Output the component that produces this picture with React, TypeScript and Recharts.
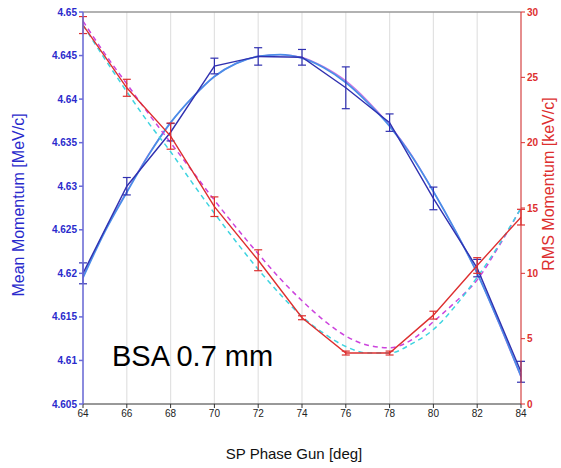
import {
  ComposedChart,
  Line,
  XAxis,
  YAxis,
  CartesianGrid,
  ErrorBar,
  ReferenceLine,
} from "recharts";

// measured points
const phase = [64, 66, 68, 70, 72, 74, 76, 78, 80, 82, 84];
const meanMomentum = [4.62, 4.63, 4.6362, 4.6438, 4.6449, 4.6448, 4.6413, 4.6373, 4.6286, 4.6206, 4.6087];
const meanErr = [0.0012, 0.001, 0.001, 0.0009, 0.001, 0.0009, 0.0024, 0.001, 0.0013, 0.001, 0.0012];
const rmsMomentum = [29.0, 24.2, 20.5, 15.1, 11.0, 6.6, 3.9, 3.9, 6.8, 10.6, 14.3];
const rmsErr = [0.65, 0.65, 1.0, 0.75, 0.8, 0.15, 0.15, 0.15, 0.3, 0.6, 0.6];

// fit curves, read every degree
const fitPhase = [64, 65, 66, 67, 68, 69, 70, 71, 72, 73, 74, 75, 76, 77, 78, 79, 80, 81, 82, 83, 84];
const meanFitBlue = [
  4.6195, 4.6248, 4.6293, 4.6336, 4.6373, 4.6402, 4.6426, 4.6441, 4.6449, 4.6451, 4.6447,
  4.6436, 4.6419, 4.6396, 4.6369, 4.6335, 4.6294, 4.6249, 4.62, 4.6143, 4.6082,
];
const meanFitMagenta = [
  4.6196, 4.6249, 4.6294, 4.6337, 4.6373, 4.6402, 4.6426, 4.6441, 4.6449, 4.6451, 4.6448,
  4.6437, 4.6421, 4.6398, 4.637, 4.6336, 4.6294, 4.6249, 4.62, 4.6142, 4.6081,
];
const rmsFitMagenta = [
  29.3, 26.8, 24.5, 22.2, 20.0, 17.8, 15.6, 13.5, 11.5, 9.6, 7.9,
  6.4, 5.2, 4.5, 4.3, 4.9, 6.3, 7.8, 9.5, 12.1, 15.0,
];
const rmsFitCyan = [
  29.0, 26.4, 23.9, 21.5, 19.3, 16.9, 14.6, 12.4, 10.3, 8.4, 6.7,
  5.4, 4.4, 3.9, 3.9, 4.6, 5.7, 7.5, 9.7, 12.2, 15.0,
];

const xTicks = [64, 66, 68, 70, 72, 74, 76, 78, 80, 82, 84];
const leftTicks = [4.605, 4.61, 4.615, 4.62, 4.625, 4.63, 4.635, 4.64, 4.645, 4.65];
const rightTicks = [0, 5, 10, 15, 20, 25, 30];

const meanData = phase.map((x, i) => ({ x, y: meanMomentum[i], err: meanErr[i] }));
const rmsData = phase.map((x, i) => ({ x, y: rmsMomentum[i], err: rmsErr[i] }));
const fitData = fitPhase.map((x, i) => ({
  x,
  mb: meanFitBlue[i],
  mm: meanFitMagenta[i],
  rm: rmsFitMagenta[i],
  rc: rmsFitCyan[i],
}));

const font = "'Liberation Sans', Arial, Helvetica, sans-serif";
const BLUE = "#2a2acc";
const RED = "#dd2f2f";

export default function App() {
  return (
    <div style={{ position: "relative", width: 561, height: 468, background: "#fff", fontFamily: font }}>
      <style>{"body{margin:0}"}</style>
      <ComposedChart width={561} height={468} margin={{ top: 12, right: 0, bottom: 0, left: 0 }}>
        <CartesianGrid horizontal={false} stroke="#e2e2e2" strokeWidth={1.2} />
        <XAxis
          type="number"
          dataKey="x"
          domain={[64, 84]}
          ticks={xTicks}
          allowDataOverflow
          height={64}
          stroke="#333"
          tickSize={4}
          tick={{ fontSize: 10, fill: "#222", fontFamily: font }}
          label={{
            content: () => (
              <text x={294} y={459} textAnchor="middle" fontSize={15} fill="#111" fontFamily={font}>
                SP Phase Gun [deg]
              </text>
            ),
          }}
        />
        <YAxis
          yAxisId="left"
          domain={[4.605, 4.65]}
          ticks={leftTicks}
          allowDataOverflow
          width={83}
          stroke="#6a6ad8"
          strokeWidth={1.5}
          tickSize={4}
          tick={{ fontSize: 10, fill: BLUE, fontFamily: font, fontWeight: "bold" }}
          label={{
            content: () => (
              <text
                x={18}
                y={205}
                transform="rotate(-90 18 205)"
                textAnchor="middle"
                dominantBaseline="central"
                fontSize={16}
                fill={BLUE}
                fontFamily={font}
              >
                Mean Momentum [MeV/c]
              </text>
            ),
          }}
        />
        <YAxis
          yAxisId="right"
          orientation="right"
          domain={[0, 30]}
          ticks={rightTicks}
          allowDataOverflow
          width={40}
          stroke={RED}
          tickSize={4}
          tick={{ fontSize: 10, fill: RED, fontFamily: font, fontWeight: "bold" }}
          label={{
            content: () => (
              <text
                x={548}
                y={184}
                transform="rotate(-90 548 184)"
                textAnchor="middle"
                dominantBaseline="central"
                fontSize={16}
                fill={RED}
                fontFamily={font}
              >
                RMS Momentum [keV/c]
              </text>
            ),
          }}
        />
        <ReferenceLine yAxisId="left" y={4.65} stroke="#999" strokeWidth={1.5} />

        <Line
          yAxisId="left"
          data={fitData}
          dataKey="mm"
          type="monotone"
          stroke="#d070e0"
          strokeWidth={1.2}
          dot={false}
          isAnimationActive={false}
        />
        <Line
          yAxisId="left"
          data={fitData}
          dataKey="mb"
          type="monotone"
          stroke="#4a8ee8"
          strokeWidth={1.8}
          dot={false}
          isAnimationActive={false}
        />
        <Line
          yAxisId="right"
          data={fitData}
          dataKey="rm"
          type="monotone"
          stroke="#cc44dd"
          strokeWidth={1.5}
          strokeDasharray="5 4"
          dot={false}
          isAnimationActive={false}
        />
        <Line
          yAxisId="right"
          data={fitData}
          dataKey="rc"
          type="monotone"
          stroke="#3fd4e0"
          strokeWidth={1.5}
          strokeDasharray="5 4"
          dot={false}
          isAnimationActive={false}
        />
        <Line
          yAxisId="left"
          data={meanData}
          dataKey="y"
          type="linear"
          stroke="#3030b0"
          strokeWidth={1.4}
          dot={false}
          isAnimationActive={false}
        >
          <ErrorBar dataKey="err" direction="y" width={4} stroke="#3030b0" strokeWidth={1.2} />
        </Line>
        <Line
          yAxisId="right"
          data={rmsData}
          dataKey="y"
          type="linear"
          stroke={RED}
          strokeWidth={1.4}
          dot={false}
          isAnimationActive={false}
        >
          <ErrorBar dataKey="err" direction="y" width={4} stroke={RED} strokeWidth={1.2} />
        </Line>
      </ComposedChart>
      <div
        style={{
          position: "absolute",
          left: 112,
          top: 342,
          fontSize: 29,
          lineHeight: 1,
          color: "#000",
          fontFamily: font,
          whiteSpace: "nowrap",
        }}
      >
        BSA 0.7 mm
      </div>
    </div>
  );
}
